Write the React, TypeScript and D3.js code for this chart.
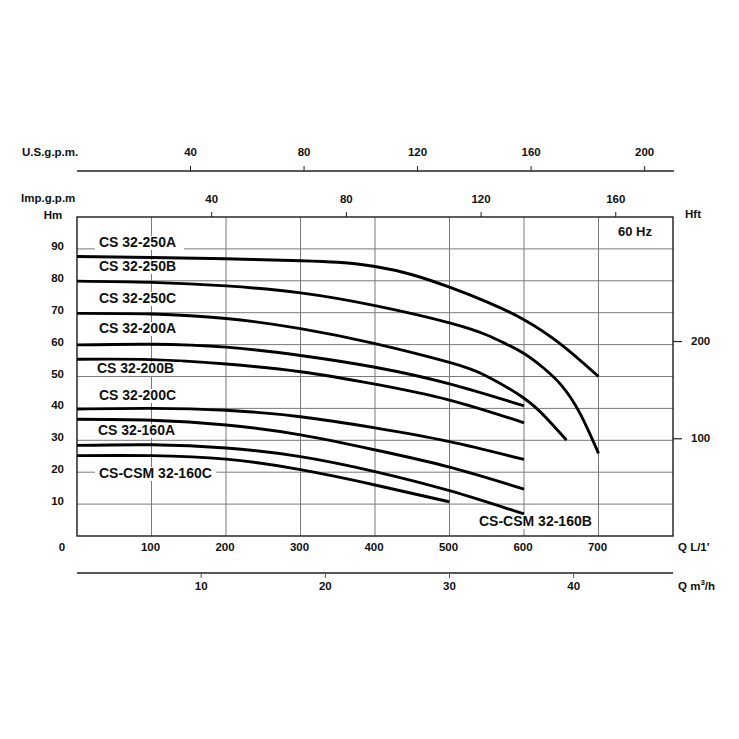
import React from "react";
import * as d3 from "d3";

// ---- data ----
const Q_TICKS = [100, 200, 300, 400, 500, 600, 700];
const H_TICKS = [10, 20, 30, 40, 50, 60, 70, 80, 90];
const HFT_TICKS = [100, 200];
const USGPM_TICKS = [40, 80, 120, 160, 200];
const IMPGPM_TICKS = [40, 80, 120, 160];
const M3H_TICKS = [10, 20, 30, 40];

const MODELS = [
  "CS 32-250A",
  "CS 32-250B",
  "CS 32-250C",
  "CS 32-200A",
  "CS 32-200B",
  "CS 32-200C",
  "CS 32-160A",
  "CS-CSM 32-160B",
  "CS-CSM 32-160C",
];

// flow Q (L/min), head H (m)
const CURVE_250A: [number, number][] = [[0, 87.6], [100, 87.3], [200, 86.9], [300, 86.3], [350, 85.8], [400, 84.5], [450, 81.9], [500, 78], [550, 73.4], [600, 67.8], [650, 60], [700, 50]];
const CURVE_250B: [number, number][] = [[0, 79.9], [100, 79.5], [200, 78.4], [300, 76.2], [400, 72.2], [500, 66.8], [550, 63], [575, 60.3], [600, 57.2], [625, 52.9], [650, 47.3], [675, 38.5], [700, 25.9]];
const CURVE_250C: [number, number][] = [[0, 69.8], [100, 69.6], [200, 68.2], [300, 65], [400, 60.3], [500, 54.4], [550, 50.1], [600, 43.2], [630, 37], [657, 30.1]];
const CURVE_200A: [number, number][] = [[0, 59.9], [100, 60.1], [200, 59.2], [300, 56.6], [400, 52.9], [500, 47.7], [600, 40.8]];
const CURVE_200B: [number, number][] = [[0, 55.4], [100, 55.3], [200, 53.9], [300, 51.5], [400, 47.6], [500, 42.6], [600, 35.5]];
const CURVE_200C: [number, number][] = [[0, 39.8], [100, 40], [200, 39.4], [300, 37.4], [400, 33.9], [500, 29.6], [600, 24]];
const CURVE_160A: [number, number][] = [[0, 36.6], [100, 36.3], [200, 34.8], [300, 31.7], [400, 27], [500, 21.6], [600, 14.7]];
const CURVE_160B: [number, number][] = [[0, 28.4], [100, 28.6], [200, 27.6], [300, 24.9], [400, 20.2], [500, 14.2], [600, 6.9]];
const CURVE_160C: [number, number][] = [[0, 25.2], [100, 25.2], [200, 24.1], [300, 20.8], [400, 16], [500, 10.7]];

const CURVES = [CURVE_250A, CURVE_250B, CURVE_250C, CURVE_200A, CURVE_200B, CURVE_200C, CURVE_160A, CURVE_160B, CURVE_160C];

// label layout (pixel anchor: left x, center y)
const LABEL_POS: [number, number][] = [
  [99, 243],
  [99, 267],
  [99, 299],
  [99, 329],
  [97, 369],
  [99, 396],
  [98, 431],
  [479, 522],
  [99, 474],
];

const FONT = "'Liberation Sans', Arial, sans-serif";

export default function App() {
  const W = 739;
  const H = 739;
  const left = 77, right = 673, top = 217, bottom = 536;

  const x = d3.scaleLinear().domain([0, 800]).range([left, right]);
  const y = d3.scaleLinear().domain([0, 100]).range([bottom, top]);
  const yFt = d3.scaleLinear().domain([0, 100 * 3.2808]).range([bottom, top]);
  const xUS = d3.scaleLinear().domain([0, 210]).range([left, right]);
  const xImp = d3.scaleLinear().domain([0, 177]).range([left, right]);
  const xM3 = d3.scaleLinear().domain([0, 48]).range([left, right]);

  const line = d3
    .line<[number, number]>()
    .x((d) => x(d[0]))
    .y((d) => y(d[1]))
    .curve(d3.curveNatural);

  const grid = "#7a7a7a";
  const txt = "#111";
  const usY = 171;
  const m3Y = 573;

  return (
    <svg
      width={W}
      height={H}
      style={{ position: "fixed", left: 0, top: 0, background: "#fff" }}
      fontFamily={FONT}
    >
      <rect x={0} y={0} width={W} height={H} fill="#fff" />

      {/* US gpm axis */}
      <text x={22} y={153} dominantBaseline="middle" fontSize={11.5} fontWeight="bold" fill={txt}>
        U.S.g.p.m.
      </text>
      <line x1={left} x2={right + 1} y1={usY} y2={usY} stroke="#222" strokeWidth={1.6} />
      {USGPM_TICKS.map((t) => (
        <g key={"us" + t}>
          <line x1={xUS(t)} x2={xUS(t)} y1={usY - 5} y2={usY} stroke="#222" strokeWidth={1} />
          <text x={xUS(t)} y={153} textAnchor="middle" dominantBaseline="middle" fontSize={11.5} fontWeight="bold" fill={txt}>
            {t}
          </text>
        </g>
      ))}

      {/* Imp gpm axis */}
      <text x={21} y={199} dominantBaseline="middle" fontSize={11.5} fontWeight="bold" fill={txt}>
        Imp.g.p.m
      </text>
      {IMPGPM_TICKS.map((t) => (
        <g key={"imp" + t}>
          <line x1={xImp(t)} x2={xImp(t)} y1={top - 5} y2={top} stroke="#222" strokeWidth={1} />
          <text x={xImp(t)} y={200} textAnchor="middle" dominantBaseline="middle" fontSize={11.5} fontWeight="bold" fill={txt}>
            {t}
          </text>
        </g>
      ))}

      {/* grid */}
      {Q_TICKS.map((t) => (
        <line key={"vg" + t} x1={x(t)} x2={x(t)} y1={top} y2={bottom} stroke={grid} strokeWidth={1} />
      ))}
      {H_TICKS.map((t) => (
        <line key={"hg" + t} x1={left} x2={right} y1={y(t)} y2={y(t)} stroke={grid} strokeWidth={1} />
      ))}

      {/* left axis labels */}
      <text x={53} y={216} textAnchor="middle" dominantBaseline="middle" fontSize={11.5} fontWeight="bold" fill={txt}>
        Hm
      </text>
      {H_TICKS.map((t) => (
        <text key={"hl" + t} x={64} y={y(t) - 2} textAnchor="end" dominantBaseline="middle" fontSize={11.5} fontWeight="bold" fill={txt}>
          {t}
        </text>
      ))}

      {/* right axis */}
      <text x={693} y={215} textAnchor="middle" dominantBaseline="middle" fontSize={11.5} fontWeight="bold" fill={txt}>
        Hft
      </text>
      {HFT_TICKS.map((t) => (
        <g key={"ft" + t}>
          <line x1={right} x2={right + 9} y1={yFt(t)} y2={yFt(t)} stroke="#222" strokeWidth={1.2} />
          <text x={691} y={yFt(t)} dominantBaseline="middle" fontSize={11.5} fontWeight="bold" fill={txt}>
            {t}
          </text>
        </g>
      ))}

      {/* bottom L/min labels */}
      <text x={62} y={548} textAnchor="middle" dominantBaseline="middle" fontSize={11.5} fontWeight="bold" fill={txt}>
        0
      </text>
      {Q_TICKS.map((t) => (
        <text key={"ql" + t} x={x(t) - 1} y={548} textAnchor="middle" dominantBaseline="middle" fontSize={11.5} fontWeight="bold" fill={txt}>
          {t}
        </text>
      ))}
      <text x={678} y={548} dominantBaseline="middle" fontSize={11.5} fontWeight="bold" fill={txt}>
        Q L/1'
      </text>

      {/* m3/h axis */}
      <line x1={left} x2={right} y1={m3Y} y2={m3Y} stroke="#555" strokeWidth={2} />
      {M3H_TICKS.map((t) => (
        <g key={"m3" + t}>
          <line x1={xM3(t)} x2={xM3(t)} y1={m3Y} y2={m3Y + 5} stroke="#555" strokeWidth={1} />
          <text x={xM3(t)} y={587} textAnchor="middle" dominantBaseline="middle" fontSize={11.5} fontWeight="bold" fill={txt}>
            {t}
          </text>
        </g>
      ))}
      <text x={678} y={587} dominantBaseline="middle" fontSize={11.5} fontWeight="bold" fill={txt}>
        Q m<tspan dy={-4} fontSize={8}>3</tspan>
        <tspan dy={4}>/h</tspan>
      </text>

      {/* frame */}
      <rect x={left} y={top} width={right - left} height={bottom - top} fill="none" stroke="#1a1a1a" strokeWidth={1.4} />

      {/* 60 Hz */}
      <text x={618} y={233} dominantBaseline="middle" fontSize={13} fontWeight="bold" fill={txt}>
        60 Hz
      </text>

      {/* curves */}
      {CURVES.map((c, i) => (
        <path key={"c" + i} d={line(c) || ""} fill="none" stroke="#000" strokeWidth={2.9} strokeLinecap="butt" />
      ))}

      {/* labels with white background */}
      {MODELS.map((m, i) => {
        const [lx, ly] = LABEL_POS[i];
        const wApprox = m.length * 8.1;
        return (
          <g key={"lab" + m}>
            <rect x={lx - 4} y={ly - 7} width={wApprox + 8} height={14} fill="#fff" />
            <text x={lx} y={ly} dominantBaseline="middle" fontSize={14} fontWeight="bold" fill={txt}>
              {m}
            </text>
          </g>
        );
      })}
    </svg>
  );
}
